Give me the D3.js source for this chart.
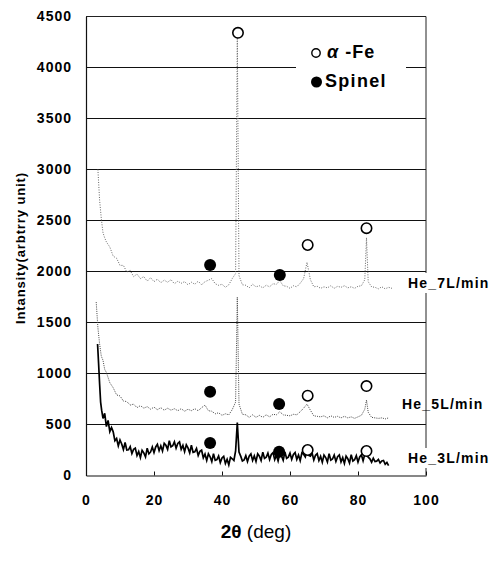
<!DOCTYPE html>
<html>
<head>
<meta charset="utf-8">
<script src="https://cdn.jsdelivr.net/npm/d3@7"></script>
<style>
  body { margin: 0; background: #fff; }
  text { font-family: "Liberation Sans", Arial, sans-serif; }
</style>
</head>
<body>
<div id="my_dataviz"></div>
<script>

// tick labels
var xTicks = [0, 20, 40, 60, 80, 100];
var yTicks = [0, 500, 1000, 1500, 2000, 2500, 3000, 3500, 4000, 4500];

// He_7L/min trace [2theta, intensity]
var he7 = [[3.5,3000],[4,2700],[4.5,2520],[5,2380],[5.5,2330],[6,2290],[7,2240],[8,2150],[9,2130],[10,2060],
  [11,2060],[12,1995],[13,2010],[14,1950],[15,1975],[16,1930],[17,1950],[18,1905],[19,1940],[20,1900],
  [21,1925],[22,1890],[23,1915],[24,1895],[25,1920],[26,1880],[27,1905],[28,1885],[29,1900],[30,1870],
  [31,1895],[32,1875],[33,1905],[34,1870],[35,1900],[36,1915],[37,1930],[38,1880],[39,1865],[40,1875],
  [41,1845],[42,1870],[43,1930],[44,1980],[44.5,4330],[45,1960],[46,1870],[47,1865],[48,1840],[49,1875],
  [50,1850],[51,1860],[52,1840],[53,1865],[54,1850],[55,1880],[56,1875],[57,1910],[58,1860],[59,1855],
  [60,1835],[61,1860],[62,1850],[63,1885],[64,1930],[65,2090],[66,1920],[67,1850],[68,1855],[69,1835],
  [70,1850],[71,1840],[72,1860],[73,1835],[74,1855],[75,1845],[76,1860],[77,1840],[78,1850],[79,1835],
  [80,1855],[81,1860],[82,1920],[82.5,2330],[83,1900],[84,1850],[85,1845],[86,1830],[87,1850],[88,1830],
  [89,1845],[90,1835]];

// He_5L/min trace
var he5 = [[3,1700],[3.5,1450],[4,1290],[4.5,1170],[5,1130],[5.5,1040],[6,1010],[7,910],[8,860],[9,790],
  [10,780],[11,730],[12,725],[13,690],[14,700],[15,665],[16,685],[17,660],[18,675],[19,650],
  [20,670],[21,645],[22,665],[23,640],[24,660],[25,640],[26,655],[27,635],[28,655],[29,630],
  [30,650],[31,635],[32,655],[33,635],[34,665],[35,690],[36,635],[37,630],[38,605],[39,615],
  [40,590],[41,605],[42,595],[43,645],[44,720],[44.5,1750],[45,700],[46,600],[47,595],[48,570],
  [49,595],[50,570],[51,590],[52,570],[53,595],[54,575],[55,600],[56,595],[57,625],[58,595],
  [59,590],[60,585],[61,600],[62,595],[63,625],[64,660],[65,700],[66,640],[67,585],[68,580],
  [69,575],[70,585],[71,565],[72,585],[73,570],[74,580],[75,565],[76,580],[77,565],[78,575],
  [79,560],[80,575],[81,590],[82,650],[82.5,740],[83,620],[84,570],[85,565],[86,560],[87,565],
  [88,555],[89,565]];

// He_3L/min trace (noisy)
var he3 = [[3.4,1290],[3.7,1100],[4,900],[4.3,720],[4.6,640],[5,560],[5.5,610],[6,480],[6.5,540],
  [7,430],[7.5,470],[8,428],[8.5,340],[9,362],[9.5,291],[10,348],[10.5,309],[11,254],[11.5,324],
  [12,250],[12.5,252],[13,284],[13.5,215],[14,256],[14.5,268],[15,195],[15.5,234],[16,176],[16.5,246],
  [17,222],[17.5,182],[18,268],[18.5,212],[19,231],[19.5,279],[20,225],[20.5,280],[21,305],[21.5,243],
  [22,291],[22.5,240],[23,316],[23.5,296],[24,257],[24.5,341],[25,280],[25.5,292],[26,331],[26.5,268],
  [27,314],[27.5,329],[28,257],[28.5,295],[29,234],[29.5,300],[30,270],[30.5,221],[31,296],[31.5,227],
  [32,232],[32.5,265],[33,196],[33.5,237],[34,248],[34.5,174],[35,210],[35.5,148],[36,214],[36.5,184],
  [37,137],[37.5,214],[38,148],[38.5,156],[39,192],[39.5,127],[40,172],[40.5,188],[41,118],[41.5,159],
  [42,103],[42.5,178],[43,164],[43.5,147],[44,240],[44.5,520],[45,230],[45.5,190],[46,142],[46.5,152],
  [47,194],[47.5,137],[48,190],[48.5,212],[49,147],[49.5,192],[50,138],[50.5,212],[51,189],[51.5,147],
  [52,229],[52.5,167],[53,179],[53.5,219],[54,157],[54.5,206],[55,224],[55.5,156],[56,199],[56.5,143],
  [57,216],[57.5,192],[58,149],[58.5,231],[59,168],[59.5,180],[60,220],[60.5,158],[61,207],[61.5,225],
  [62,158],[62.5,201],[63,146],[63.5,223],[64,209],[64.5,182],[65,245],[65.5,197],[66,189],[66.5,219],
  [67,152],[67.5,198],[68,215],[68.5,146],[69,187],[69.5,130],[70,201],[70.5,176],[71,133],[71.5,214],
  [72,151],[72.5,162],[73,201],[73.5,138],[74,185],[74.5,202],[75,133],[75.5,175],[76,118],[76.5,190],
  [77,165],[77.5,123],[78,204],[78.5,142],[79,154],[79.5,194],[80,132],[80.5,182],[81,203],[81.5,145],
  [82,207],[82.5,215],[83,180],[83.5,164],[84,131],[84.5,170],[85,137],[85.5,141],[86,157],[86.5,122],
  [87,142],[87.5,147],[88,110],[88.5,128],[89,96]];

// peak markers [2theta, intensity]
var alphaFe = [[44.7,4340],[65.2,2260],[82.5,2425],[65.2,782],[82.5,877],[65.2,250],[82.5,240]];
var spinel = [[36.5,2063],[57,1966],[36.5,822],[56.8,700],[36.5,318],[56.8,233]];

// sample labels
var labels = [
  {text: "He_7L/min", x: 408, y: 288},
  {text: "He_5L/min", x: 402, y: 409},
  {text: "He_3L/min", x: 408, y: 463}
];

var margin = {top: 16.5, right: 75, bottom: 86.5, left: 86},
    width = 501 - margin.left - margin.right,
    height = 562 - margin.top - margin.bottom;

var root = d3.select("#my_dataviz")
  .append("svg")
    .attr("width", 501)
    .attr("height", 562);

var svg = root.append("g")
    .attr("transform", "translate(" + margin.left + "," + margin.top + ")");

var x = d3.scaleLinear().domain([0, 100]).range([0, width]);
var y = d3.scaleLinear().domain([0, 4500]).range([height, 0]);

// horizontal grid
svg.append("g")
  .selectAll("line")
  .data(yTicks.slice(1, -1))
  .enter()
  .append("line")
    .attr("x1", 0)
    .attr("x2", width)
    .attr("y1", function(d) { return y(d); })
    .attr("y2", function(d) { return y(d); })
    .attr("stroke", "#111")
    .attr("stroke-width", 1.1);

// frame (top + right)
svg.append("path")
  .attr("d", "M0,0H" + width + "V" + height)
  .attr("fill", "none")
  .attr("stroke", "#222")
  .attr("stroke-width", 1);

// traces
var line = d3.line()
  .x(function(d) { return x(d[0]); })
  .y(function(d) { return y(d[1]); });

svg.append("path")
  .datum(he7)
  .attr("fill", "none")
  .attr("stroke", "#666")
  .attr("stroke-width", 1)
  .attr("stroke-dasharray", "1,1.5")
  .attr("d", line);

svg.append("path")
  .datum(he5)
  .attr("fill", "none")
  .attr("stroke", "#444")
  .attr("stroke-width", 1)
  .attr("stroke-dasharray", "1,1.2")
  .attr("d", line);

svg.append("path")
  .datum(he3)
  .attr("fill", "none")
  .attr("stroke", "#000")
  .attr("stroke-width", 1.7)
  .attr("d", line);

// axes
var xAxis = svg.append("g")
  .attr("transform", "translate(0," + height + ")")
  .call(d3.axisBottom(x).tickValues(xTicks).tickSizeInner(-4).tickSizeOuter(0).tickPadding(20));

var yAxis = svg.append("g")
  .call(d3.axisLeft(y).tickValues(yTicks).tickFormat(d3.format("d"))
    .tickSizeInner(0).tickSizeOuter(0).tickPadding(14));

[xAxis, yAxis].forEach(function(a) {
  a.select(".domain").attr("stroke", "#111").attr("stroke-width", 1.2);
  a.selectAll(".tick line").attr("stroke", "#111");
  a.selectAll("text")
    .attr("fill", "#000")
    .style("font-size", "14px")
    .style("font-weight", "bold")
    .style("letter-spacing", "1px");
});

// markers
svg.append("g")
  .selectAll("circle")
  .data(alphaFe)
  .enter()
  .append("circle")
    .attr("cx", function(d) { return x(d[0]); })
    .attr("cy", function(d) { return y(d[1]); })
    .attr("r", 5.2)
    .attr("fill", "#fff")
    .attr("stroke", "#000")
    .attr("stroke-width", 1.6);

svg.append("g")
  .selectAll("circle")
  .data(spinel)
  .enter()
  .append("circle")
    .attr("cx", function(d) { return x(d[0]); })
    .attr("cy", function(d) { return y(d[1]); })
    .attr("r", 6)
    .attr("fill", "#000");

// legend
var lg = root.append("g");
lg.append("rect")
  .attr("x", 296).attr("y", 40).attr("width", 110).attr("height", 52)
  .attr("fill", "#fff");
lg.append("circle")
  .attr("cx", 316).attr("cy", 53).attr("r", 4.2)
  .attr("fill", "#fff").attr("stroke", "#000").attr("stroke-width", 1.4);
lg.append("circle")
  .attr("cx", 316.5).attr("cy", 82).attr("r", 5.5)
  .attr("fill", "#000");
var t1 = lg.append("text")
  .attr("x", 327).attr("y", 58)
  .style("font-size", "18px").style("font-weight", "bold").style("letter-spacing", "1px");
t1.append("tspan").style("font-style", "italic").text("α");
t1.append("tspan").text(" -Fe");
lg.append("text")
  .attr("x", 325).attr("y", 87)
  .style("font-size", "18px").style("font-weight", "bold").style("letter-spacing", "1.3px")
  .text("Spinel");

// sample labels
var lb = root.append("g")
  .selectAll("g")
  .data(labels)
  .enter()
  .append("g");
lb.filter(function(d, i) { return i !== 1; })
  .append("rect")
    .attr("x", function(d) { return d.x - 6; })
    .attr("y", function(d) { return d.y - 15; })
    .attr("width", 90)
    .attr("height", 20)
    .attr("fill", "#fff");
lb.append("text")
  .attr("x", function(d) { return d.x; })
  .attr("y", function(d) { return d.y; })
  .style("font-size", "14px")
  .style("font-weight", "bold")
  .style("letter-spacing", "1.2px")
  .text(function(d) { return d.text; });

// axis titles
var xt = root.append("text")
  .attr("x", 256)
  .attr("y", 538)
  .attr("text-anchor", "middle")
  .style("font-size", "19px");
xt.append("tspan").style("font-weight", "bold").text("2θ");
xt.append("tspan").text(" (deg)");

root.append("text")
  .attr("transform", "translate(25,248) rotate(-90)")
  .attr("text-anchor", "middle")
  .style("font-size", "13px")
  .style("font-weight", "bold")
  .style("letter-spacing", "0.9px")
  .text("Intansity(arbtrry unit)");

</script>
</body>
</html>
